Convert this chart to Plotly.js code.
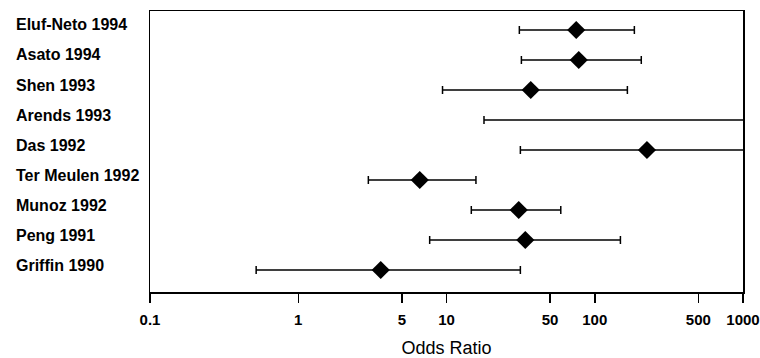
<!DOCTYPE html>
<html><head><meta charset="utf-8">
<script src="https://cdn.plot.ly/plotly-3.0.1.min.js"></script>
<style>html,body{margin:0;padding:0;background:#fff}#chart{width:760px;height:358px}</style>
</head><body><div id="chart"></div>
<script>
const studies = ["Eluf-Neto 1994","Asato 1994","Shen 1993","Arends 1993","Das 1992","Ter Meulen 1992","Munoz 1992","Peng 1991","Griffin 1990"];
const oddsRatio = [75, 78, 37, 1500, 225, 6.6, 30.7, 34, 3.6];
const lowerCI  = [31, 32, 9.4, 17.9, 31.5, 2.97, 14.7, 7.7, 0.52];
const upperCI  = [185, 206, 166, 20000, 5000, 15.8, 59, 149, 31.5];
const tickVals = [0.1, 1, 5, 10, 50, 100, 500, 1000];
const tickText = ["0.1", "1", "5", "10", "50", "100", "500", "1000"];

const idx = studies.map((_, i) => i);
const plus = oddsRatio.map((v, i) => upperCI[i] - v);
const minus = oddsRatio.map((v, i) => v - lowerCI[i]);
const FONT = "Liberation Sans, Arial, Helvetica, sans-serif";

const trace = {
  type: "scatter", mode: "markers",
  x: oddsRatio, y: idx,
  marker: {symbol: "diamond", size: 14, color: "#000"},
  error_x: {type: "data", symmetric: false, array: plus, arrayminus: minus,
            color: "#000", thickness: 1.5, width: 4},
  cliponaxis: true, hoverinfo: "skip"
};

const annotations = studies.map((s, i) => ({
  text: s, xref: "paper", yref: "y", x: -0.23, y: i, yshift: 5,
  xanchor: "left", yanchor: "middle", showarrow: false,
  font: {family: FONT, size: 16, color: "#000", weight: "bold"}
}));

const layout = {
  width: 760, height: 358,
  margin: {l: 150, r: 17, t: 11, b: 66},
  paper_bgcolor: "#fff", plot_bgcolor: "#fff",
  showlegend: false,
  xaxis: {
    type: "log", range: [-1, 3], tickvals: tickVals, ticktext: tickText,
    ticks: "outside", ticklen: 9, tickwidth: 1.5, tickcolor: "#000",
    showline: true, linewidth: 1.5, linecolor: "#000", mirror: true,
    showgrid: false, zeroline: false, ticklabelstandoff: 4,
    ticklabeloverflow: "allow",
    tickfont: {family: FONT, size: 15, color: "#000", weight: "bold"},
    title: {text: "Odds Ratio", standoff: 15, font: {family: FONT, size: 18, color: "#000"}}
  },
  yaxis: {
    range: [8.733, -0.633], showticklabels: false, ticks: "",
    showline: true, linewidth: 1.5, linecolor: "#000", mirror: true,
    showgrid: false, zeroline: false
  },
  annotations: annotations
};

Plotly.newPlot("chart", [trace], layout, {displayModeBar: false, staticPlot: true});
</script></body></html>
